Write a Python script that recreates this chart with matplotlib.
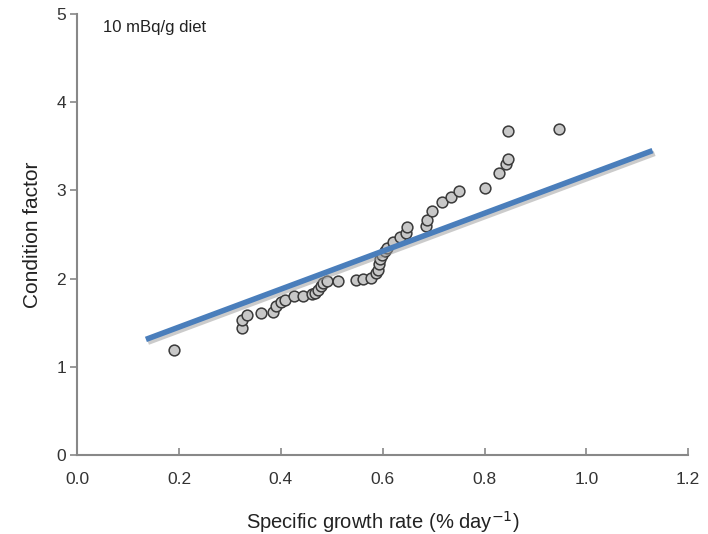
import matplotlib
matplotlib.use("Agg")
import matplotlib.pyplot as plt
import matplotlib.patheffects as pe

plt.rcParams['font.family'] = ['Liberation Sans', 'DejaVu Sans']

growth_rate = [0.19, 0.323, 0.323, 0.333, 0.362, 0.384, 0.391, 0.40, 0.409, 0.426,
               0.444, 0.461, 0.468, 0.473, 0.478, 0.483, 0.49, 0.512, 0.547, 0.562,
               0.577, 0.586, 0.591, 0.593, 0.595, 0.598, 0.604, 0.609, 0.62, 0.635,
               0.646, 0.648, 0.685, 0.687, 0.697, 0.716, 0.734, 0.749, 0.80, 0.828,
               0.843, 0.846, 0.847, 0.947]
condition = [1.19, 1.44, 1.53, 1.59, 1.61, 1.62, 1.69, 1.73, 1.76, 1.80,
             1.80, 1.82, 1.84, 1.875, 1.91, 1.95, 1.97, 1.97, 1.98, 1.99,
             2.01, 2.06, 2.10, 2.16, 2.22, 2.27, 2.31, 2.35, 2.41, 2.47,
             2.52, 2.58, 2.59, 2.66, 2.77, 2.87, 2.92, 2.99, 3.03, 3.20,
             3.30, 3.36, 3.67, 3.69]

fit_x = [0.135, 1.13]
fit_y = [1.31, 3.45]

x_ticks = [0.0, 0.2, 0.4, 0.6, 0.8, 1.0, 1.2]
y_ticks = [0, 1, 2, 3, 4, 5]

fig = plt.figure(figsize=(7.08, 5.34), dpi=100)
ax = fig.add_axes([0.109, 0.148, 0.863, 0.826])

ax.scatter(growth_rate, condition, s=60, facecolor='#c8c8c8', edgecolor='#3a3a3a',
           linewidth=1.1, zorder=3)
ax.plot(fit_x, fit_y, color='#4a7ebb', linewidth=4, solid_capstyle='butt', zorder=4,
        path_effects=[pe.SimpleLineShadow(offset=(1.5, -2), shadow_color='#999999', alpha=0.5),
                      pe.Normal()])

ax.set_xlim(0, 1.2)
ax.set_ylim(0, 5)
ax.set_xticks(x_ticks)
ax.set_xticklabels([f"{v:.1f}" for v in x_ticks])
ax.set_yticks(y_ticks)
ax.set_yticklabels([str(v) for v in y_ticks])

for s in ['top', 'right']:
    ax.spines[s].set_visible(False)
for s in ['left', 'bottom']:
    ax.spines[s].set_color('#888888')
    ax.spines[s].set_linewidth(1.5)

ax.tick_params(axis='x', direction='in', length=5, color='#888888', width=1.2,
               labelsize=12.5, labelcolor='#333333', pad=12)
ax.tick_params(axis='y', direction='out', length=5, color='#888888', width=1.2,
               labelsize=12.5, labelcolor='#333333', pad=3)

ax.set_xlabel('Specific growth rate (% day$^{\\mathsf{-1}}$)', fontsize=14.5,
              color='#222222', labelpad=16)
ax.set_ylabel('Condition factor', fontsize=15, color='#222222', labelpad=10)

ax.text(0.05, 4.84, '10 mBq/g diet', fontsize=12, color='#222222', va='center', ha='left')

fig.savefig('out.png', dpi=100)
